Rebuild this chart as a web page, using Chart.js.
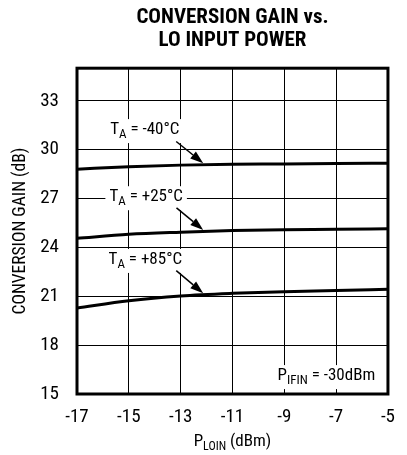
<!DOCTYPE html>
<html>
<head>
<meta charset="utf-8">
<script src="https://cdn.jsdelivr.net/npm/chart.js@4.4.1/dist/chart.umd.min.js"></script>
<style>
  html, body { margin: 0; padding: 0; background: #fff; }
  #wrap { width: 407px; height: 455px; }
</style>
</head>
<body>
<div id="wrap"><canvas id="gainChart" width="407" height="455"></canvas></div>
<script>
'use strict';

// LO input power (dBm)
const loPower = [-17, -15, -13, -11, -9, -7, -5];

// conversion gain (dB) per temperature
const gainM40 = [28.8, 28.95, 29.05, 29.1, 29.12, 29.15, 29.17];
const gainP25 = [24.56, 24.8, 24.93, 25.03, 25.09, 25.11, 25.15];
const gainP85 = [20.28, 20.73, 21.02, 21.18, 21.28, 21.35, 21.43];

const xTicks = [-17, -15, -13, -11, -9, -7, -5];
const yTicks = [15, 18, 21, 24, 27, 30, 33];

const FONT = '"Roboto Condensed", "Liberation Sans Narrow", "DejaVu Sans Condensed", sans-serif';

function points(ys) {
	return loPower.map(function (x, i) { return { x: x, y: ys[i] }; });
}

// labels + arrows, placed in data coordinates
const notes = [
	{ main: 'T', sub: 'A', rest: ' = -40°C', x: -15.72, y: 31.2, arrow: [-13.17, 30.5, -12.13, 29.17] },
	{ main: 'T', sub: 'A', rest: ' = +25°C', x: -15.75, y: 27.08, arrow: [-13.16, 26.43, -12.13, 25.07] },
	{ main: 'T', sub: 'A', rest: ' = +85°C', x: -15.78, y: 23.23, arrow: [-13.17, 22.57, -12.13, 21.19] },
	{ main: 'P', sub: 'IFIN', rest: ' = -30dBm', x: -9.26, y: 16.1, arrow: null }
];

// text with a subscript
function subText(ctx, n, px, py, size, subSize, bg) {
	ctx.save();
	ctx.textBaseline = 'middle';
	ctx.textAlign = 'left';
	ctx.font = size + 'px ' + FONT;
	const wMain = ctx.measureText(n.main).width;
	const wRest = ctx.measureText(n.rest).width;
	ctx.font = subSize + 'px ' + FONT;
	const wSub = ctx.measureText(n.sub).width;
	const total = wMain + wSub + wRest;
	let x0 = px;
	if (n.center) x0 = px - total / 2;
	if (bg) {
		ctx.fillStyle = '#fff';
		ctx.fillRect(x0 - 4, py - 11, total + 8, 24);
	}
	ctx.fillStyle = '#000';
	ctx.font = size + 'px ' + FONT;
	ctx.fillText(n.main, x0, py);
	ctx.font = subSize + 'px ' + FONT;
	ctx.fillText(n.sub, x0 + wMain, py + 5);
	ctx.font = size + 'px ' + FONT;
	ctx.fillText(n.rest, x0 + wMain + wSub, py);
	ctx.restore();
}

const notesPlugin = {
	id: 'notes',
	afterDatasetsDraw: function (chart) {
		const ctx = chart.ctx;
		const xs = chart.scales.x, ys = chart.scales.y;
		const area = chart.chartArea;
		ctx.save();
		notes.forEach(function (n) {
			subText(ctx, n, xs.getPixelForValue(n.x), ys.getPixelForValue(n.y), 17, 13, true);
			if (n.arrow) {
				const x1 = xs.getPixelForValue(n.arrow[0]);
				const y1 = ys.getPixelForValue(n.arrow[1]);
				const x2 = xs.getPixelForValue(n.arrow[2]);
				const y2 = ys.getPixelForValue(n.arrow[3]);
				const ang = Math.atan2(y2 - y1, x2 - x1);
				const hl = 13, hw = 4.5;
				const bx = x2 - hl * Math.cos(ang), by = y2 - hl * Math.sin(ang);
				ctx.strokeStyle = '#000';
				ctx.fillStyle = '#000';
				ctx.lineWidth = 1.5;
				ctx.beginPath();
				ctx.moveTo(x1, y1);
				ctx.lineTo(bx, by);
				ctx.stroke();
				ctx.beginPath();
				ctx.moveTo(x2, y2);
				ctx.lineTo(bx + hw * Math.sin(ang), by - hw * Math.cos(ang));
				ctx.lineTo(bx - hw * Math.sin(ang), by + hw * Math.cos(ang));
				ctx.closePath();
				ctx.fill();
			}
		});
		// plot frame
		ctx.strokeStyle = '#000';
		ctx.lineWidth = 3;
		ctx.strokeRect(area.left, area.top, area.right - area.left, area.bottom - area.top);
		// x axis title with subscript
		subText(ctx, { main: 'P', sub: 'LOIN', rest: ' (dBm)', center: true },
			(area.left + area.right) / 2, 442, 17, 12, false);
		ctx.restore();
	}
};

function series(ys) {
	return {
		data: points(ys),
		borderColor: '#000',
		borderWidth: 3,
		pointRadius: 0,
		cubicInterpolationMode: 'monotone',
		fill: false
	};
}

let ctx = document.getElementById('gainChart').getContext('2d');

let gainChart = new Chart(ctx, {
	type: 'line',
	data: {
		datasets: [series(gainM40), series(gainP25), series(gainP85)]
	},
	options: {
		responsive: false,
		animation: false,
		layout: { padding: { left: 0, right: 5, top: 0, bottom: 0 } },
		plugins: {
			legend: { display: false },
			tooltip: { enabled: false },
			title: {
				display: true,
				fullSize: false,
				text: ['CONVERSION GAIN vs.', 'LO INPUT POWER'],
				color: '#000',
				font: { family: FONT, size: 21, weight: 'bold', lineHeight: 1.1 },
				padding: { top: 6, bottom: 16 }
			}
		},
		scales: {
			x: {
				type: 'linear',
				min: -17,
				max: -5,
				afterBuildTicks: function (s) { s.ticks = xTicks.map(function (v) { return { value: v }; }); },
				afterFit: function (s) { s.height = 61; },
				grid: { color: '#000', lineWidth: 1, drawTicks: false },
				border: { display: false },
				ticks: { color: '#000', padding: 12, font: { family: FONT, size: 19 } }
			},
			y: {
				type: 'linear',
				min: 15,
				max: 35,
				afterBuildTicks: function (s) { s.ticks = yTicks.map(function (v) { return { value: v }; }); },
				afterFit: function (s) { s.width = 77; },
				grid: { color: '#000', lineWidth: 1, drawTicks: false },
				border: { display: false },
				ticks: { color: '#000', padding: 18, font: { family: FONT, size: 19 } },
				title: {
					display: true,
					text: 'CONVERSION GAIN (dB)',
					color: '#000',
					font: { family: FONT, size: 17.5 },
					padding: { top: 10, bottom: 0 }
				}
			}
		}
	},
	plugins: [notesPlugin]
});
</script>
</body>
</html>
